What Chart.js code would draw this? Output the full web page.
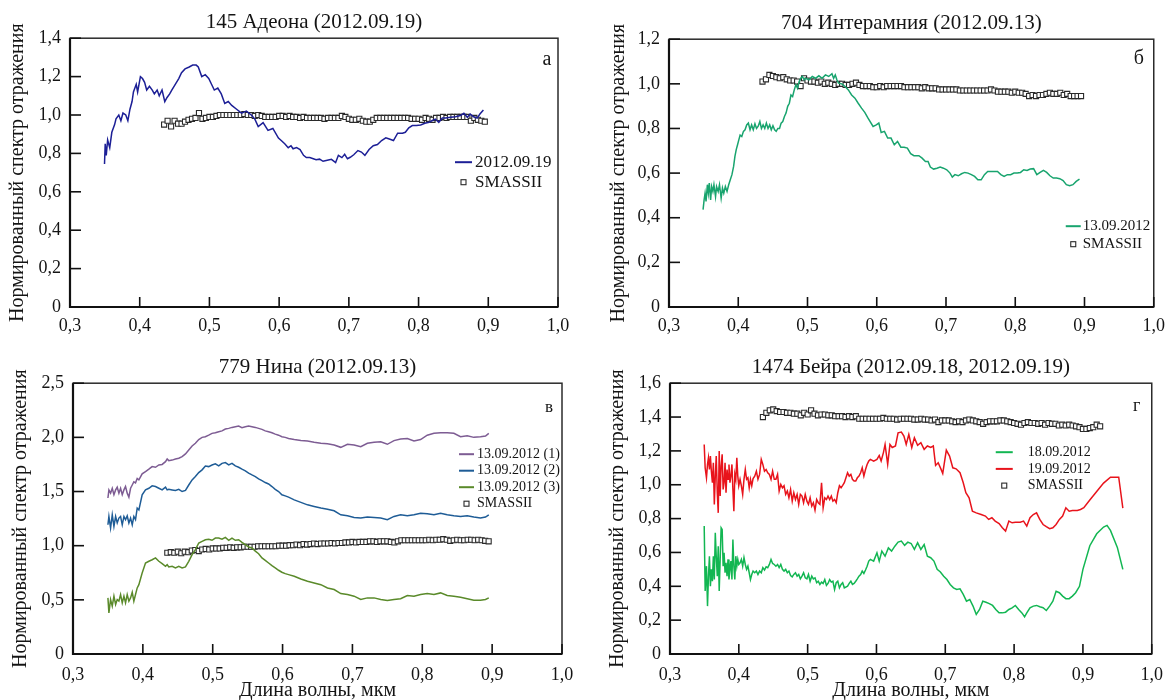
<!DOCTYPE html>
<html>
<head>
<meta charset="utf-8">
<script src="https://cdn.jsdelivr.net/npm/chart.js@4"></script>
<style>
  body { margin: 0; background: #fff; width: 1173px; height: 700px; overflow: hidden; position: relative; }
  canvas { position: absolute; }
</style>
</head>
<body>
<canvas id="pa" width="590" height="345" style="left:0;top:0"></canvas>
<canvas id="pb" width="583" height="345" style="left:590px;top:0"></canvas>
<canvas id="pc" width="590" height="365" style="left:0;top:345px"></canvas>
<canvas id="pd" width="583" height="365" style="left:590px;top:345px"></canvas>
<script>
// SMASSII wavelengths, mkm
const smassWl = [
  0.435, 0.44, 0.445, 0.45, 0.455, 0.46, 0.465, 0.47, 0.475, 0.48,
  0.485, 0.49, 0.495, 0.5, 0.505, 0.51, 0.515, 0.52, 0.525, 0.53,
  0.535, 0.54, 0.545, 0.55, 0.555, 0.56, 0.565, 0.57, 0.575, 0.58,
  0.585, 0.59, 0.595, 0.6, 0.605, 0.61, 0.615, 0.62, 0.625, 0.63,
  0.635, 0.64, 0.645, 0.65, 0.655, 0.66, 0.665, 0.67, 0.675, 0.68,
  0.685, 0.69, 0.695, 0.7, 0.705, 0.71, 0.715, 0.72, 0.725, 0.73,
  0.735, 0.74, 0.745, 0.75, 0.755, 0.76, 0.765, 0.77, 0.775, 0.78,
  0.785, 0.79, 0.795, 0.8, 0.805, 0.81, 0.815, 0.82, 0.825, 0.83,
  0.835, 0.84, 0.845, 0.85, 0.855, 0.86, 0.865, 0.87, 0.875, 0.88,
  0.885, 0.89, 0.895, 0.9, 0.905, 0.91, 0.915, 0.92, 0.925
];

// 145 Адеона
const adeonaWl = [
  0.3495, 0.3505, 0.352, 0.354, 0.357, 0.360, 0.364, 0.366, 0.370, 0.373,
  0.376, 0.380, 0.383, 0.386, 0.389, 0.391, 0.395, 0.397, 0.401, 0.404,
  0.407, 0.410, 0.414, 0.418, 0.421, 0.425, 0.428, 0.432, 0.436, 0.439,
  0.443, 0.446, 0.451, 0.456, 0.460, 0.465, 0.471, 0.476, 0.481, 0.484,
  0.489, 0.494, 0.499, 0.503, 0.507, 0.512, 0.517, 0.522, 0.527, 0.532,
  0.539, 0.546, 0.553, 0.560, 0.565, 0.570, 0.577, 0.584, 0.591, 0.599,
  0.603, 0.608, 0.613, 0.617, 0.620, 0.625, 0.630, 0.635, 0.639, 0.644,
  0.649, 0.653, 0.658, 0.663, 0.669, 0.675, 0.681, 0.685, 0.690, 0.694,
  0.698, 0.702, 0.707, 0.713, 0.718, 0.723, 0.729, 0.735, 0.741, 0.747,
  0.753, 0.757, 0.764, 0.770, 0.777, 0.781, 0.786, 0.791, 0.797, 0.803,
  0.809, 0.815, 0.819, 0.824, 0.829, 0.834, 0.839, 0.846, 0.853, 0.860,
  0.865, 0.870, 0.874, 0.879, 0.884, 0.888, 0.893
];
const adeonaRefl = [
  0.745, 0.85, 0.79, 0.87, 0.83, 0.91, 0.95, 0.98, 1.00, 0.97,
  1.01, 1.00, 0.97, 1.03, 1.07, 1.12, 1.16, 1.12, 1.20, 1.19,
  1.17, 1.13, 1.15, 1.13, 1.11, 1.13, 1.10, 1.13, 1.07, 1.09,
  1.11, 1.13, 1.16, 1.19, 1.22, 1.24, 1.25, 1.26, 1.26, 1.25,
  1.20, 1.21, 1.19, 1.16, 1.13, 1.14, 1.11, 1.06, 1.07, 1.05,
  1.03, 1.01, 1.02, 1.00, 0.98, 0.94, 0.96, 0.92, 0.93, 0.88,
  0.867, 0.85, 0.83, 0.84, 0.824, 0.83, 0.82, 0.79, 0.778, 0.778,
  0.772, 0.767, 0.77, 0.759, 0.764, 0.769, 0.752, 0.79, 0.778, 0.795,
  0.772, 0.78, 0.793, 0.815, 0.807, 0.79, 0.82, 0.84, 0.846, 0.867,
  0.881, 0.876, 0.867, 0.905, 0.905, 0.91, 0.933, 0.945, 0.945, 0.948,
  0.957, 0.962, 0.97, 0.979, 0.962, 0.984, 0.984, 0.988, 0.991, 0.997,
  1.009, 0.988, 1.005, 0.991, 0.984, 1.005, 1.026
];
const adeonaSmass = [
  0.95, 0.97, 0.94, 0.97, 0.955, 0.955, 0.965, 0.975, 0.98, 0.985,
  1.01, 0.98, 0.985, 0.99, 0.99, 0.995, 1.0, 1.0, 1.0, 1.0,
  1.0, 1.0, 1.0, 1.005, 1.0, 1.0, 0.995, 1.0, 0.995, 0.99,
  0.99, 0.99, 0.99, 0.995, 0.995, 0.99, 0.995, 0.99, 0.99, 0.985,
  0.99, 0.985, 0.985, 0.985, 0.985, 0.985, 0.98, 0.985, 0.985, 0.985,
  0.985, 0.995, 0.99, 0.98, 0.975, 0.975, 0.98, 0.97, 0.965, 0.965,
  0.975, 0.985, 0.985, 0.985, 0.985, 0.985, 0.985, 0.985, 0.985, 0.985,
  0.985, 0.98, 0.98, 0.98, 0.975, 0.985, 0.98, 0.975, 0.985, 0.985,
  0.99, 0.985, 0.99, 0.99, 0.99, 0.99, 0.99, 0.99, 0.97, 0.985,
  0.975, 0.97, 0.965
];

// 704 Интерамния
const interWl = [
  0.3492, 0.3507, 0.3521, 0.3535, 0.3554, 0.3568, 0.3582, 0.3601, 0.3616, 0.3634,
  0.3649, 0.3672, 0.3687, 0.371, 0.3729, 0.3753, 0.3772, 0.3791, 0.3814, 0.3838,
  0.3862, 0.3885, 0.3909, 0.3933, 0.3952, 0.3971, 0.399, 0.4009, 0.4027, 0.4051,
  0.4075, 0.4098, 0.4122, 0.4146, 0.417, 0.4193, 0.4217, 0.4241, 0.4264, 0.4288,
  0.4312, 0.4335, 0.4359, 0.4383, 0.4406, 0.443, 0.4454, 0.4477, 0.4501, 0.4525,
  0.4548, 0.4572, 0.4596, 0.4619, 0.4643, 0.4667, 0.469, 0.4714, 0.4738, 0.4761,
  0.4785, 0.4809, 0.4832, 0.4856, 0.488, 0.4903, 0.4927, 0.4951, 0.4974, 0.5022,
  0.5069, 0.5116, 0.5164, 0.5211, 0.5259, 0.5306, 0.5353, 0.5377, 0.5401, 0.5424,
  0.5448, 0.5495, 0.5543, 0.559, 0.5637, 0.5685, 0.5732, 0.578, 0.5827, 0.5874,
  0.5947, 0.5993, 0.603, 0.6064, 0.6111, 0.6158, 0.6206, 0.6253, 0.63, 0.6348,
  0.6395, 0.6442, 0.649, 0.6537, 0.6608, 0.6655, 0.6703, 0.6741, 0.6774, 0.6821,
  0.6869, 0.6916, 0.6963, 0.7011, 0.7058, 0.7091, 0.7129, 0.7177, 0.7224, 0.7271,
  0.7318, 0.7366, 0.7413, 0.746, 0.7508, 0.7555, 0.7602, 0.765, 0.7697, 0.7744,
  0.7792, 0.7839, 0.7886, 0.7934, 0.7981, 0.8028, 0.8076, 0.8123, 0.817, 0.8217,
  0.8265, 0.8312, 0.8359, 0.8407, 0.8454, 0.8501, 0.8549, 0.8596, 0.8643, 0.8691,
  0.8738, 0.8785, 0.8833, 0.888, 0.8928
];
const interRefl = [
  0.436, 0.48, 0.51, 0.473, 0.548, 0.51, 0.555, 0.48, 0.54, 0.518,
  0.548, 0.495, 0.54, 0.518, 0.548, 0.488, 0.533, 0.51, 0.54, 0.518,
  0.548, 0.57, 0.593, 0.63, 0.675, 0.705, 0.727, 0.75, 0.77, 0.764,
  0.787, 0.794, 0.816, 0.824, 0.794, 0.816, 0.794, 0.821, 0.8, 0.81,
  0.831, 0.8, 0.816, 0.8, 0.824, 0.8, 0.816, 0.794, 0.812, 0.794,
  0.787, 0.8, 0.8, 0.824, 0.831, 0.854, 0.869, 0.899, 0.913, 0.95,
  0.943, 0.973, 0.996, 0.98, 1.01, 1.025, 1.033, 1.018, 1.025, 1.018,
  1.033, 1.025, 1.036, 1.025, 1.04, 1.033, 1.045, 1.025, 1.04, 1.018,
  1.003, 1.0, 0.988, 0.973, 0.95, 0.936, 0.913, 0.891, 0.872, 0.846,
  0.809, 0.816, 0.824, 0.782, 0.787, 0.757, 0.757, 0.727, 0.742, 0.716,
  0.716, 0.712, 0.687, 0.678, 0.678, 0.667, 0.652, 0.652, 0.627, 0.618,
  0.622, 0.627, 0.622, 0.615, 0.6, 0.582, 0.593, 0.588, 0.597, 0.603,
  0.6, 0.593, 0.585, 0.57, 0.57, 0.593, 0.607, 0.607, 0.607, 0.607,
  0.593, 0.585, 0.593, 0.593, 0.6, 0.6, 0.603, 0.615, 0.612, 0.618,
  0.62, 0.593, 0.603, 0.612, 0.603, 0.588, 0.578, 0.578, 0.575, 0.567,
  0.548, 0.543, 0.548, 0.563, 0.573
];
const interSmass = [
  1.01, 1.02, 1.04, 1.035, 1.03, 1.025, 1.03, 1.02, 1.015, 1.015,
  1.01, 0.99, 1.025, 1.015, 1.01, 1.01, 1.005, 1.01, 1.0, 1.005,
  1.0, 0.995, 1.0, 1.0, 0.995, 0.995, 1.0, 1.005, 0.995, 0.99,
  0.99, 0.99, 0.985, 0.985, 0.99, 0.985, 0.99, 0.99, 0.99, 0.99,
  0.99, 0.985, 0.985, 0.985, 0.985, 0.985, 0.98, 0.985, 0.98, 0.98,
  0.98, 0.975, 0.975, 0.975, 0.975, 0.975, 0.975, 0.97, 0.97, 0.97,
  0.97, 0.97, 0.97, 0.97, 0.97, 0.97, 0.975, 0.97, 0.965, 0.965,
  0.965, 0.965, 0.96, 0.965, 0.96, 0.96, 0.955, 0.945, 0.95, 0.945,
  0.95, 0.95, 0.955, 0.96, 0.955, 0.955, 0.96, 0.95, 0.955, 0.945,
  0.945, 0.945, 0.945
];

// 779 Нина, three spectra on one wavelength grid
const ninaWl = [
  0.35, 0.3514, 0.3538, 0.3562, 0.3586, 0.361, 0.3633, 0.3657, 0.3681, 0.3705,
  0.3729, 0.3752, 0.3776, 0.38, 0.3824, 0.3848, 0.3871, 0.3895, 0.3919, 0.3943,
  0.399, 0.4038, 0.4086, 0.4133, 0.4181, 0.4229, 0.4276, 0.4324, 0.4348, 0.4371,
  0.4419, 0.4467, 0.4514, 0.4562, 0.461, 0.4657, 0.4705, 0.4752, 0.48, 0.4848,
  0.4895, 0.4943, 0.499, 0.5038, 0.5086, 0.5133, 0.5181, 0.5229, 0.5276, 0.5324,
  0.5371, 0.5419, 0.5467, 0.5514, 0.5562, 0.561, 0.5657, 0.5705, 0.5752, 0.58,
  0.5848, 0.5895, 0.5943, 0.599, 0.6038, 0.6086, 0.6167, 0.6262, 0.6357, 0.6452,
  0.6548, 0.6643, 0.6738, 0.6833, 0.6929, 0.7024, 0.7119, 0.7214, 0.731, 0.7405,
  0.75, 0.7595, 0.769, 0.7786, 0.7881, 0.7976, 0.8071, 0.8167, 0.8262, 0.8357,
  0.8452, 0.8548, 0.8643, 0.8738, 0.8833, 0.8905, 0.8952
];
const nina1 = [
  1.44, 1.515, 1.485, 1.53, 1.47, 1.515, 1.54, 1.485, 1.53, 1.47,
  1.515, 1.546, 1.485, 1.448, 1.53, 1.56, 1.59, 1.58, 1.62, 1.607,
  1.663, 1.684, 1.706, 1.73, 1.724, 1.745, 1.75, 1.776, 1.8, 1.785,
  1.79, 1.8, 1.807, 1.822, 1.847, 1.883, 1.92, 1.945, 1.98, 2.0,
  2.006, 2.02, 2.037, 2.043, 2.052, 2.06, 2.077, 2.083, 2.092, 2.098,
  2.104, 2.09, 2.098, 2.104, 2.098, 2.092, 2.083, 2.074, 2.06, 2.052,
  2.043, 2.03, 2.02, 2.006, 2.0, 1.99, 1.98, 1.97, 1.966, 1.954,
  1.945, 1.94, 1.93, 1.908, 1.936, 1.93, 1.914, 1.945, 1.954, 1.96,
  1.936, 1.97, 1.985, 1.99, 1.966, 1.98, 2.02, 2.037, 2.043, 2.043,
  2.037, 2.006, 2.015, 2.0, 2.006, 2.012, 2.037
];
const nina2 = [
  1.193, 1.27, 1.163, 1.285, 1.178, 1.27, 1.21, 1.255, 1.27, 1.193,
  1.27, 1.24, 1.276, 1.21, 1.255, 1.193, 1.27, 1.24, 1.347, 1.33,
  1.47, 1.515, 1.53, 1.552, 1.546, 1.53, 1.515, 1.54, 1.515, 1.52,
  1.515, 1.51, 1.52, 1.5, 1.51, 1.56, 1.607, 1.638, 1.675, 1.7,
  1.736, 1.73, 1.745, 1.755, 1.736, 1.76, 1.767, 1.745, 1.76, 1.736,
  1.724, 1.706, 1.69, 1.67, 1.653, 1.638, 1.617, 1.6, 1.583, 1.57,
  1.546, 1.52, 1.5, 1.47, 1.46, 1.448, 1.423, 1.4, 1.377, 1.362,
  1.347, 1.337, 1.322, 1.285, 1.276, 1.26, 1.255, 1.264, 1.26, 1.255,
  1.24, 1.27, 1.285, 1.276, 1.285, 1.3, 1.295, 1.285, 1.3, 1.285,
  1.276, 1.27, 1.276, 1.264, 1.255, 1.264, 1.285
];
const nina3 = [
  0.518, 0.38, 0.503, 0.442, 0.534, 0.457, 0.503, 0.488, 0.549, 0.472,
  0.534, 0.472, 0.549, 0.488, 0.518, 0.57, 0.488, 0.549, 0.61, 0.64,
  0.748, 0.84, 0.856, 0.87, 0.887, 0.856, 0.834, 0.81, 0.825, 0.804,
  0.81, 0.795, 0.81, 0.795, 0.804, 0.856, 0.917, 0.963, 1.025, 1.04,
  1.055, 1.06, 1.05, 1.07, 1.07, 1.06, 1.077, 1.05, 1.07, 1.05,
  1.055, 1.03, 1.01, 0.988, 0.98, 0.95, 0.926, 0.887, 0.865, 0.84,
  0.816, 0.795, 0.773, 0.755, 0.742, 0.733, 0.718, 0.693, 0.672, 0.656,
  0.64, 0.61, 0.595, 0.558, 0.549, 0.534, 0.503, 0.518, 0.518, 0.503,
  0.494, 0.503, 0.51, 0.54, 0.534, 0.549, 0.558, 0.549, 0.564, 0.54,
  0.534, 0.524, 0.51, 0.497, 0.497, 0.503, 0.518
];
const ninaSmass = [
  0.935, 0.94, 0.935, 0.945, 0.93, 0.945, 0.94, 0.955, 0.96, 0.95,
  0.965, 0.97, 0.965, 0.975, 0.975, 0.975, 0.98, 0.98, 0.985, 0.98,
  0.985, 0.985, 0.99, 0.99, 0.99, 0.99, 0.995, 0.995, 0.995, 0.995,
  0.995, 0.995, 1.0, 1.0, 1.0, 1.005, 1.005, 1.01, 1.005, 1.015,
  1.01, 1.015, 1.02, 1.015, 1.02, 1.02, 1.02, 1.025, 1.02, 1.025,
  1.025, 1.03, 1.03, 1.035, 1.03, 1.035, 1.035, 1.035, 1.04, 1.04,
  1.035, 1.04, 1.04, 1.04, 1.035, 1.03, 1.04, 1.05, 1.05, 1.05,
  1.05, 1.05, 1.05, 1.05, 1.05, 1.055, 1.05, 1.055, 1.055, 1.06,
  1.055, 1.045, 1.05, 1.055, 1.05, 1.05, 1.055, 1.055, 1.05, 1.055,
  1.05, 1.045, 1.04
];

// 1474 Бейра: shared grid for the noisy blue end, then separate tails
const beiraWl = [
  0.3497, 0.3511, 0.353, 0.3545, 0.3559, 0.3573, 0.3587, 0.3601, 0.3616, 0.363,
  0.3644, 0.3658, 0.3672, 0.3687, 0.3701, 0.3715, 0.3729, 0.3743, 0.3758, 0.3772,
  0.3786, 0.38, 0.3814, 0.3829, 0.3843, 0.3857, 0.3871, 0.3885, 0.39, 0.3914,
  0.3928, 0.3942, 0.3956, 0.3971, 0.3985, 0.3999, 0.4018, 0.4037, 0.4056, 0.4075,
  0.4094, 0.4113, 0.4132, 0.4151, 0.4169, 0.4188, 0.4207, 0.4231, 0.4255, 0.4278,
  0.4302, 0.4326, 0.4349, 0.4373, 0.4397, 0.442, 0.4444, 0.4468, 0.4491, 0.4515,
  0.4539, 0.4563, 0.4586, 0.461, 0.4634, 0.4657, 0.4681, 0.4705, 0.4728, 0.4752,
  0.4776, 0.4799, 0.4823, 0.4847, 0.487, 0.4894, 0.4918, 0.4941, 0.4965, 0.4989,
  0.5012, 0.5036, 0.506, 0.5083, 0.5107, 0.5131, 0.5154, 0.5178, 0.5202, 0.5225,
  0.5249, 0.5273, 0.5296, 0.532, 0.5344, 0.5367, 0.5391, 0.5415, 0.5438, 0.5462,
  0.5486, 0.5509, 0.5533, 0.558, 0.5604, 0.5628, 0.5651, 0.5675, 0.5699, 0.5722,
  0.5746, 0.577, 0.5793, 0.5817, 0.5841, 0.5864, 0.5888, 0.5912, 0.5959
];
const beira19a = [
  1.238, 1.1, 1.041, 1.12, 1.16, 1.09, 1.17, 1.08, 1.012, 1.13,
  0.884, 1.051, 1.17, 0.953, 0.834, 1.2, 0.933, 1.11, 1.18, 0.972,
  1.012, 1.13, 0.953, 1.09, 1.032, 1.12, 1.012, 1.051, 1.12, 0.972,
  0.844, 1.061, 1.032, 1.16, 1.051, 0.994, 1.032, 0.994, 0.943, 1.032,
  1.09, 1.032, 1.041, 0.982, 1.032, 0.994, 1.036, 1.051, 1.08, 1.032,
  1.061, 1.15, 1.12, 1.08, 1.09, 1.071, 1.061, 1.032, 1.08, 1.032,
  1.032, 1.061, 0.963, 1.002, 0.982, 0.994, 0.943, 0.963, 0.923, 0.972,
  0.903, 0.953, 0.913, 0.943, 0.884, 0.943, 0.933, 0.894, 0.943, 0.903,
  0.884, 0.923, 0.874, 0.894, 0.85, 0.913, 0.894, 0.884, 1.012, 0.864,
  0.923, 0.913, 0.933, 0.913, 0.933, 0.903, 0.913, 0.894, 0.953, 0.994,
  0.982, 0.996, 1.012, 1.071, 1.051, 1.061, 1.032, 1.022, 1.022, 1.041,
  1.051, 1.071, 1.1, 1.051, 1.09, 1.12, 1.14, 1.15, 1.14
];
const beira18a = [
  0.756, 0.372, 0.519, 0.283, 0.46, 0.578, 0.401, 0.5, 0.43, 0.578,
  0.44, 0.716, 0.578, 0.46, 0.637, 0.372, 0.559, 0.746, 0.736, 0.519,
  0.598, 0.48, 0.539, 0.46, 0.559, 0.44, 0.5, 0.549, 0.44, 0.677,
  0.519, 0.44, 0.578, 0.519, 0.559, 0.529, 0.539, 0.559, 0.519, 0.569,
  0.529, 0.5, 0.519, 0.48, 0.44, 0.47, 0.49, 0.48, 0.49, 0.47,
  0.49, 0.48, 0.51, 0.496, 0.515, 0.51, 0.529, 0.559, 0.535, 0.529,
  0.519, 0.529, 0.51, 0.529, 0.5, 0.49, 0.5, 0.48, 0.49, 0.464,
  0.456, 0.47, 0.48, 0.46, 0.47, 0.444, 0.46, 0.48, 0.45, 0.444,
  0.47, 0.43, 0.46, 0.444, 0.45, 0.421, 0.43, 0.411, 0.425, 0.417,
  0.44, 0.405, 0.417, 0.44, 0.425, 0.43, 0.381, 0.421, 0.43, 0.391,
  0.411, 0.421, 0.391, 0.401, 0.417, 0.43, 0.411, 0.417, 0.43, 0.444,
  0.46, 0.47, 0.49, 0.476, 0.496, 0.519, 0.549, 0.559, 0.549
];
const beira19WlB = [
  0.6007, 0.604, 0.6068, 0.6101, 0.6125, 0.6163, 0.6196, 0.6229, 0.6276, 0.6314,
  0.6362, 0.6399, 0.6432, 0.647, 0.6513, 0.6551, 0.6598, 0.6645, 0.6693, 0.674,
  0.6788, 0.6826, 0.6859, 0.6897, 0.6939, 0.6963, 0.7015, 0.7062, 0.7109, 0.7157,
  0.7214, 0.7261, 0.7299, 0.7346, 0.7394, 0.745, 0.7521, 0.7583, 0.763, 0.7677,
  0.7725, 0.7782, 0.7829, 0.7876, 0.7924, 0.7971, 0.8018, 0.8089, 0.8137, 0.8184,
  0.8231, 0.8279, 0.8326, 0.8373, 0.8421, 0.8468, 0.8516, 0.8563, 0.861, 0.8658,
  0.8705, 0.8752, 0.88, 0.8847, 0.8918, 0.8965, 0.9013, 0.91, 0.92, 0.93,
  0.94, 0.952, 0.958
];
const beira19b = [
  1.15, 1.173, 1.14, 1.19, 1.238, 1.12, 1.238, 1.22, 1.229, 1.307,
  1.311, 1.287, 1.238, 1.297, 1.22, 1.278, 1.233, 1.248, 1.209, 1.229,
  1.22, 1.229, 1.114, 1.13, 1.091, 1.067, 1.205, 1.169, 1.1, 1.094,
  1.071, 1.012, 0.953, 0.923, 0.844, 0.834, 0.824, 0.815, 0.795, 0.805,
  0.785, 0.771, 0.746, 0.726, 0.785, 0.775, 0.779, 0.779, 0.785, 0.756,
  0.805, 0.824, 0.834, 0.795, 0.765, 0.752, 0.74, 0.746, 0.765, 0.795,
  0.815, 0.864, 0.844, 0.848, 0.848, 0.854, 0.864, 0.91, 0.96, 1.01,
  1.045, 1.045, 0.862
];
const beira18WlB = [
  0.6007, 0.604, 0.6078, 0.6125, 0.6173, 0.622, 0.6267, 0.6314, 0.6362, 0.6409,
  0.6456, 0.6504, 0.6551, 0.6598, 0.6645, 0.6693, 0.674, 0.6788, 0.6835, 0.6882,
  0.6929, 0.6977, 0.7024, 0.7071, 0.7119, 0.7166, 0.7214, 0.7261, 0.7308, 0.7356,
  0.7403, 0.745, 0.7498, 0.7545, 0.7592, 0.7639, 0.7687, 0.7734, 0.7781, 0.7829,
  0.7876, 0.7924, 0.7971, 0.8018, 0.8066, 0.8113, 0.8152, 0.8184, 0.8231, 0.8279,
  0.8326, 0.8373, 0.8421, 0.8468, 0.8516, 0.8563, 0.861, 0.8658, 0.8705, 0.8752,
  0.88, 0.8847, 0.8894, 0.895, 0.90, 0.91, 0.92, 0.93, 0.935, 0.94,
  0.95, 0.958
];
const beira18b = [
  0.598, 0.549, 0.608, 0.578, 0.627, 0.608, 0.637, 0.661, 0.667, 0.642,
  0.661, 0.653, 0.618, 0.657, 0.618, 0.647, 0.578, 0.569, 0.549, 0.5,
  0.485, 0.46, 0.44, 0.411, 0.391, 0.381, 0.385, 0.352, 0.312, 0.322,
  0.283, 0.234, 0.263, 0.312, 0.306, 0.298, 0.287, 0.263, 0.243, 0.243,
  0.247, 0.263, 0.273, 0.287, 0.263, 0.243, 0.22, 0.243, 0.273, 0.283,
  0.287, 0.279, 0.273, 0.257, 0.283, 0.312, 0.371, 0.362, 0.342, 0.327,
  0.327, 0.342, 0.362, 0.40, 0.50, 0.64, 0.71, 0.75, 0.76, 0.73,
  0.63, 0.50
];
const beiraSmass = [
  1.40, 1.425, 1.44, 1.445, 1.435, 1.43, 1.43, 1.425, 1.425, 1.42,
  1.42, 1.41, 1.425, 1.415, 1.44, 1.42, 1.41, 1.415, 1.415, 1.41,
  1.41, 1.405, 1.405, 1.405, 1.40, 1.405, 1.40, 1.405, 1.39, 1.39,
  1.39, 1.39, 1.39, 1.39, 1.39, 1.395, 1.39, 1.39, 1.39, 1.385,
  1.39, 1.39, 1.39, 1.39, 1.385, 1.385, 1.39, 1.385, 1.385, 1.38,
  1.385, 1.37, 1.38, 1.38, 1.38, 1.375, 1.37, 1.375, 1.37, 1.38,
  1.385, 1.38, 1.375, 1.37, 1.36, 1.37, 1.375, 1.375, 1.375, 1.38,
  1.38, 1.375, 1.37, 1.365, 1.36, 1.355, 1.365, 1.37, 1.365, 1.365,
  1.36, 1.365, 1.355, 1.365, 1.36, 1.36, 1.35, 1.355, 1.35, 1.355,
  1.35, 1.345, 1.34, 1.33, 1.33, 1.335, 1.34, 1.355, 1.345
];

const serif = '"Liberation Serif", "Times New Roman", serif';
const ink = '#141414';
const yLabel = 'Нормированный спектр отражения';
const xLabel = 'Длина волны, мкм';

const pts = (xs, ys) => ys.map((y, i) => ({ x: xs[i], y: y }));
const fmt = v => Math.abs(v) < 1e-9 ? '0' : Number(v).toFixed(1).replace('.', ',');

function spectrum(label, data, color) {
  return { label: label, data: data, borderColor: color, backgroundColor: color,
           borderWidth: 1.5, pointRadius: 0, tension: 0, fill: false };
}
function smass(data) {
  return { label: 'SMASSII', data: data, showLine: false, pointStyle: 'rect',
           pointRadius: 3.6, pointBorderWidth: 1.1, pointBorderColor: '#2a2a2a',
           pointBackgroundColor: '#fff', borderColor: '#2a2a2a', backgroundColor: '#fff' };
}

// frame, inward ticks, panel letter and the legend box
const panelDecor = {
  id: 'panelDecor',
  afterDraw(chart, args, o) {
    const ctx = chart.ctx, a = chart.chartArea;
    const xs = chart.scales.x, ys = chart.scales.y;
    ctx.save();
    ctx.strokeStyle = '#2b2b2b';
    ctx.lineWidth = 1.5;
    ctx.strokeRect(a.left, a.top, a.right - a.left, a.bottom - a.top);
    ctx.strokeStyle = '#111';
    ctx.lineWidth = 2.2;
    ctx.beginPath();
    ctx.moveTo(a.left, a.top);
    ctx.lineTo(a.left, a.bottom);
    ctx.lineTo(a.right, a.bottom);
    ctx.stroke();
    ctx.lineWidth = 1.6;
    xs.ticks.forEach(t => {
      const px = xs.getPixelForValue(t.value);
      ctx.beginPath(); ctx.moveTo(px, a.bottom); ctx.lineTo(px, a.bottom - 10); ctx.stroke();
    });
    ys.ticks.forEach(t => {
      const py = ys.getPixelForValue(t.value);
      ctx.beginPath(); ctx.moveTo(a.left, py); ctx.lineTo(a.left + 11, py); ctx.stroke();
    });

    ctx.fillStyle = ink;
    ctx.textAlign = 'center';
    ctx.textBaseline = 'middle';
    ctx.font = o.letterSize + 'px ' + serif;
    ctx.fillText(o.letter, a.right - o.letterDx, a.top + o.letterDy);

    const lg = o.legend;
    ctx.font = lg.size + 'px ' + serif;
    ctx.textAlign = 'left';
    chart.data.datasets.forEach((ds, i) => {
      const y0 = a.top + lg.top + i * lg.row;
      const x0 = a.right - lg.x;
      if (ds.showLine === false) {
        const c = x0 + lg.len / 2;
        ctx.fillStyle = '#fff';
        ctx.fillRect(c - 2.5, y0 - 2.5, 5, 5);
        ctx.strokeStyle = '#2a2a2a';
        ctx.lineWidth = 1.1;
        ctx.strokeRect(c - 2.5, y0 - 2.5, 5, 5);
      } else {
        ctx.strokeStyle = ds.borderColor;
        ctx.lineWidth = 2;
        ctx.beginPath(); ctx.moveTo(x0, y0); ctx.lineTo(x0 + lg.len, y0); ctx.stroke();
      }
      ctx.fillStyle = ink;
      ctx.fillText(ds.label, x0 + lg.len + lg.gap, y0);
    });
    ctx.restore();
  }
};

function makePanel(id, p) {
  new Chart(document.getElementById(id), {
    type: 'line',
    data: { datasets: p.datasets },
    options: {
      responsive: false,
      animation: false,
      devicePixelRatio: 1,
      events: [],
      layout: { padding: { top: p.padTop, right: p.padRight, left: 0, bottom: 0 } },
      plugins: {
        legend: { display: false },
        tooltip: { enabled: false },
        title: {
          display: true, text: p.title, fullSize: false, color: ink,
          font: { family: serif, size: 21, weight: 'normal' },
          padding: { top: 0, bottom: 3 }
        },
        panelDecor: { letter: p.letter, letterSize: p.letterSize, letterDx: p.letterDx,
                      letterDy: p.letterDy, legend: p.legend }
      },
      scales: {
        x: {
          type: 'linear', min: 0.3, max: 1.0,
          afterFit: s => { s.height = p.xh; },
          grid: { display: false, drawTicks: false },
          border: { display: false },
          ticks: { stepSize: 0.1, padding: p.xPad, autoSkip: false, maxRotation: 0,
                   color: ink, font: { family: serif, size: 18 }, callback: fmt },
          title: p.xTitle
            ? { display: true, text: xLabel, color: ink, font: { family: serif, size: 20 },
                padding: { top: 0, bottom: 7 } }
            : { display: false }
        },
        y: {
          type: 'linear', min: 0, max: p.yMax,
          afterFit: s => { s.width = p.yw; },
          grid: { display: false, drawTicks: false },
          border: { display: false },
          ticks: { stepSize: p.yStep, padding: 9, color: ink,
                   font: { family: serif, size: 18 }, callback: fmt },
          title: { display: true, text: yLabel, color: ink, font: { family: serif, size: 20 },
                   padding: { top: p.yTitlePad, bottom: 0 } }
        }
      }
    },
    plugins: [panelDecor]
  });
}

makePanel('pa', {
  title: '145 Адеона (2012.09.19)',
  datasets: [
    spectrum('2012.09.19', pts(adeonaWl, adeonaRefl), '#1c1f96'),
    smass(pts(smassWl, adeonaSmass))
  ],
  yMax: 1.4, yStep: 0.2, yw: 70, xh: 38, padTop: 10, padRight: 32, xPad: 8, yTitlePad: 6,
  letter: 'а', letterSize: 20, letterDx: 11, letterDy: 22,
  legend: { x: 103, len: 17, gap: 3, top: 124, row: 20, size: 17 }
});

makePanel('pb', {
  title: '704 Интерамния (2012.09.13)',
  datasets: [
    spectrum('13.09.2012', pts(interWl, interRefl), '#18a46e'),
    smass(pts(smassWl, interSmass))
  ],
  yMax: 1.2, yStep: 0.2, yw: 79, xh: 38, padTop: 11, padRight: 13, xPad: 8, yTitlePad: 17,
  letter: 'б', letterSize: 20, letterDx: 15, letterDy: 20,
  legend: { x: 88, len: 15, gap: 2, top: 187, row: 18, size: 15 }
});

makePanel('pc', {
  title: '779 Нина (2012.09.13)',
  datasets: [
    spectrum('13.09.2012 (1)', pts(ninaWl, nina1), '#7d5c93'),
    spectrum('13.09.2012 (2)', pts(ninaWl, nina2), '#1e5c96'),
    spectrum('13.09.2012 (3)', pts(ninaWl, nina3), '#5a8a2a'),
    smass(pts(smassWl, ninaSmass))
  ],
  yMax: 2.5, yStep: 0.5, yw: 73, xh: 56, padTop: 10, padRight: 28, xPad: 10, yTitlePad: 9,
  xTitle: true,
  letter: 'в', letterSize: 17, letterDx: 13, letterDy: 24,
  legend: { x: 103, len: 15, gap: 3, top: 71, row: 16.5, size: 14 }
});

makePanel('pd', {
  title: '1474 Бейра (2012.09.18, 2012.09.19)',
  datasets: [
    spectrum('18.09.2012', pts(beiraWl, beira18a).concat(pts(beira18WlB, beira18b)), '#12b652'),
    spectrum('19.09.2012', pts(beiraWl, beira19a).concat(pts(beira19WlB, beira19b)), '#e8131b'),
    smass(pts(smassWl, beiraSmass))
  ],
  yMax: 1.6, yStep: 0.2, yw: 80, xh: 56, padTop: 10, padRight: 15, xPad: 10, yTitlePad: 16,
  xTitle: true,
  letter: 'г', letterSize: 18, letterDx: 15, letterDy: 23,
  legend: { x: 156, len: 17, gap: 15, top: 69, row: 16.7, size: 14 }
});
</script>
</body>
</html>
